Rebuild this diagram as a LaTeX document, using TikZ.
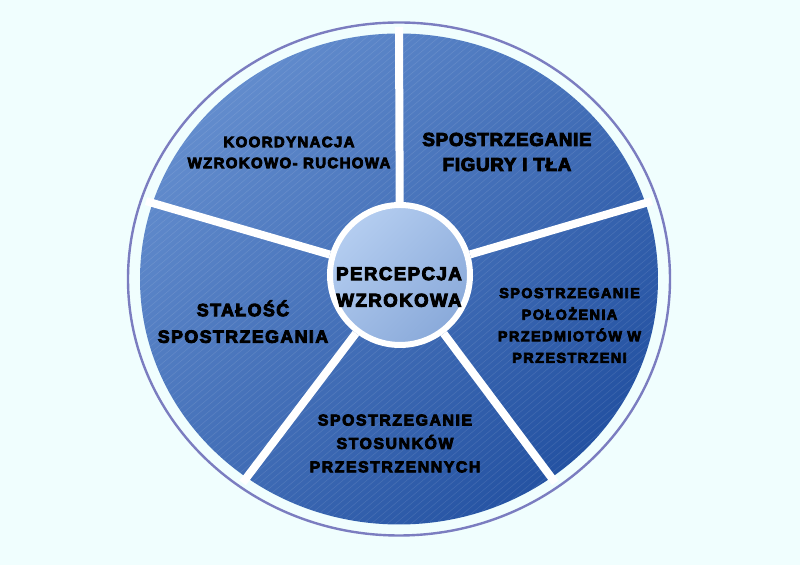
\documentclass[tikz,border=0pt]{standalone}
\usepackage{fontspec}
\setmainfont{Liberation Sans}

\definecolor{bgcyan}{HTML}{F0FEFE}
\definecolor{rimline}{HTML}{7B7DC0}
\definecolor{wheeltop}{HTML}{628CCD}
\definecolor{wheelbot}{HTML}{2452A2}
\definecolor{hubtop}{HTML}{B4CDF0}
\definecolor{hubbot}{HTML}{8AAADA}

\begin{document}
\begin{tikzpicture}[
    x=0.5pt, y=-0.5pt,
    sector_text/.style n args={3}{font=\bfseries\fontsize{#1}{#2}\selectfont\addfontfeatures{LetterSpace=#3, FakeBold=5}, align=center, text=black, inner sep=0pt},
    hub_disk/.style={circle, draw=white, line width=3pt, top color=hubtop, bottom color=hubbot, shading angle=45, minimum size=70pt, inner sep=0pt},
    spoke/.style={draw=white, line width=4pt},
    sheen/.style={white, opacity=0.1, line width=0.3pt}
]

% --- Canvas ---
\fill[bgcyan] (0,0) rectangle (800,565);
\useasboundingbox (0,0) rectangle (800,565);

% --- Wheel ---
\coordinate (c) at (399,279);
\draw[rimline, line width=1.2pt] (c) ellipse [x radius=135.5pt, y radius=128.25pt];
\shade[top color=wheeltop, bottom color=wheelbot, shading angle=45] (c) ellipse [x radius=129.5pt, y radius=122.75pt];
\begin{scope}
    \clip (c) ellipse [x radius=129.5pt, y radius=122.75pt];
    \foreach \s in {-600,-592,...,700}
        \draw[sheen] (\s,560) -- (\s+667,0);
\end{scope}

% --- Hub ---
\node[hub_disk] (hub) at (400,275) {};

% --- Spokes ---
\foreach \a [count=\i] in {-90,-18,54,126,198} {
    \path (c) ++(\a:266 and 252) coordinate (rim\i);
    \draw[spoke] (hub) -- (rim\i);
}

% --- Labels ---
\node[sector_text={9.3}{13.3}{8}] (hubtext) at (399,287) {PERCEPCJA\\WZROKOWA};
\node[sector_text={7.5}{10.5}{9}] (coord) at (289,152.5) {KOORDYNACJA\\WZROKOWO- RUCHOWA};
\node[sector_text={9.35}{12.5}{4}] (figure) at (507,152) {SPOSTRZEGANIE\\FIGURY I TŁA};
\node[sector_text={7.2}{10.8}{10}] (position) at (569.5,325.5) {SPOSTRZEGANIE\\POŁOŻENIA\\PRZEDMIOTÓW W\\PRZESTRZENI};
\node[sector_text={7.9}{11.7}{10}] (relation) at (395,443.5) {SPOSTRZEGANIE\\STOSUNKÓW\\PRZESTRZENNYCH};
\node[sector_text={8.9}{13.3}{8}] (constancy) at (243,321.7) {STAŁOŚĆ\\SPOSTRZEGANIA};

\end{tikzpicture}
\end{document}
